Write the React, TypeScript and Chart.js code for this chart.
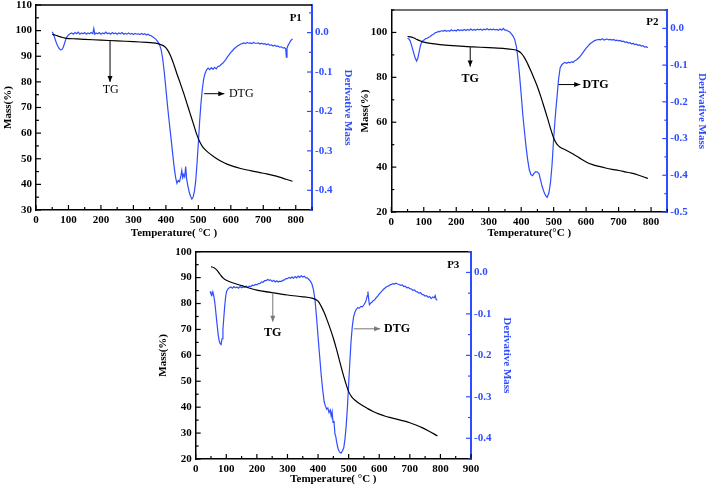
import React, { useEffect, useRef } from "react";
import { Chart, registerables } from "chart.js";
Chart.register(...registerables);

const BLUE = "#2f4cff";
const FONT = "'Liberation Serif', 'Times New Roman', serif";

// ---------- P1 ----------
const p1TgTemp = [50, 60, 70, 80, 90, 100, 125, 150, 200, 250, 300, 340, 360, 375, 385, 395, 405, 415, 425, 435, 445, 455, 465, 475, 485, 495, 505, 515, 530, 550, 570, 590, 610, 630, 650, 670, 690, 710, 730, 750, 770, 790];
const p1TgMass = [98.5, 98.2, 97.8, 97.4, 97.1, 96.9, 96.8, 96.6, 96.3, 96.0, 95.7, 95.4, 95.2, 94.9, 94.5, 93.9, 92.5, 90.0, 86.6, 82.8, 79.2, 75.5, 71.5, 67.5, 63.5, 59.5, 56.4, 54.3, 52.5, 50.6, 49.0, 47.8, 46.9, 46.2, 45.6, 45.1, 44.6, 44.1, 43.5, 42.8, 42.0, 41.2];
const p1Dtg: [number, number][] = [[50,0.002],[53,-0.003],[57,-0.012],[61,-0.022],[65,-0.031],[70,-0.039],[75,-0.044],[80,-0.043],[84,-0.037],[88,-0.027],[92,-0.017],[96,-0.01],[100,-0.006],[105,-0.003],[110,-0.001],[115,-0.004],[120,0.0],[125,-0.003],[130,0.001],[135,-0.004],[140,-0.001],[145,-0.003],[150,0.0],[155,-0.004],[160,-0.001],[165,-0.003],[170,0.0],[175,-0.003],[178,0.01],[181,-0.004],[185,-0.001],[190,-0.003],[195,0.0],[200,-0.004],[205,-0.001],[210,-0.003],[215,0.001],[220,-0.003],[225,-0.001],[230,-0.004],[235,0.0],[240,-0.003],[245,-0.001],[250,-0.004],[255,-0.001],[260,-0.003],[265,0.0],[270,-0.004],[275,-0.002],[280,-0.004],[285,-0.001],[290,-0.004],[295,-0.002],[300,-0.005],[305,-0.002],[310,-0.004],[315,-0.003],[320,-0.005],[325,-0.002],[330,-0.005],[335,-0.003],[340,-0.006],[345,-0.004],[350,-0.007],[355,-0.008],[360,-0.011],[365,-0.014],[370,-0.018],[375,-0.023],[380,-0.03],[385,-0.042],[390,-0.065],[395,-0.1],[400,-0.142],[405,-0.185],[410,-0.225],[415,-0.262],[420,-0.3],[425,-0.338],[430,-0.368],[434,-0.382],[438,-0.375],[442,-0.378],[446,-0.365],[449,-0.35],[452,-0.368],[455,-0.36],[458,-0.366],[461,-0.34],[464,-0.372],[468,-0.39],[472,-0.405],[476,-0.415],[480,-0.422],[484,-0.417],[488,-0.402],[492,-0.375],[496,-0.33],[500,-0.28],[504,-0.225],[508,-0.18],[512,-0.145],[516,-0.12],[520,-0.105],[525,-0.095],[530,-0.09],[535,-0.094],[540,-0.089],[545,-0.093],[550,-0.088],[555,-0.092],[560,-0.086],[565,-0.085],[570,-0.081],[575,-0.078],[580,-0.073],[585,-0.068],[590,-0.061],[595,-0.056],[600,-0.05],[605,-0.046],[610,-0.041],[615,-0.038],[620,-0.034],[625,-0.032],[630,-0.029],[635,-0.028],[640,-0.026],[645,-0.028],[650,-0.025],[655,-0.027],[660,-0.026],[665,-0.028],[670,-0.025],[675,-0.027],[680,-0.027],[685,-0.026],[690,-0.029],[695,-0.027],[700,-0.029],[705,-0.028],[710,-0.031],[715,-0.029],[720,-0.032],[725,-0.031],[730,-0.034],[735,-0.032],[740,-0.035],[745,-0.034],[750,-0.037],[755,-0.036],[760,-0.039],[765,-0.038],[769,-0.041],[771,-0.062],[773,-0.04],[776,-0.033],[780,-0.027],[785,-0.02],[790,-0.016]];

// ---------- P2 ----------
const p2TgTemp = [50, 60, 70, 80, 90, 100, 120, 150, 200, 250, 300, 350, 375, 390, 400, 410, 420, 430, 440, 450, 460, 470, 480, 490, 500, 510, 520, 540, 560, 580, 600, 620, 640, 660, 680, 700, 720, 740, 760, 780, 790];
const p2TgMass = [98.2, 98.0, 97.5, 96.8, 96.2, 95.7, 95.1, 94.6, 94.0, 93.6, 93.2, 92.8, 92.4, 91.8, 90.8, 88.8, 86.0, 82.8, 79.4, 75.8, 71.6, 67.0, 62.3, 57.4, 53.0, 50.2, 48.9, 47.4, 45.8, 44.0, 42.3, 41.1, 40.3, 39.6, 39.0, 38.5, 37.9, 37.3, 36.5, 35.5, 34.9];
const p2Dtg: [number, number][] = [[50,-0.027],[54,-0.029],[58,-0.034],[62,-0.045],[66,-0.058],[70,-0.07],[74,-0.082],[78,-0.089],[82,-0.08],[86,-0.063],[90,-0.046],[94,-0.037],[98,-0.033],[102,-0.031],[106,-0.028],[110,-0.027],[115,-0.024],[120,-0.022],[125,-0.018],[130,-0.016],[135,-0.012],[140,-0.011],[145,-0.008],[150,-0.009],[155,-0.006],[160,-0.008],[165,-0.005],[170,-0.008],[175,-0.006],[180,-0.008],[185,-0.004],[190,-0.007],[195,-0.005],[200,-0.007],[205,-0.003],[210,-0.006],[215,-0.004],[220,-0.006],[225,-0.003],[230,-0.006],[235,-0.003],[240,-0.005],[245,-0.002],[250,-0.005],[255,-0.003],[260,-0.005],[265,-0.002],[270,-0.004],[275,-0.002],[280,-0.005],[285,-0.002],[290,-0.004],[295,-0.001],[300,-0.004],[305,-0.002],[310,-0.004],[315,-0.002],[320,-0.004],[325,-0.003],[330,-0.005],[335,-0.002],[340,-0.005],[345,0.0],[350,-0.005],[355,-0.005],[360,-0.008],[365,-0.01],[370,-0.015],[375,-0.021],[380,-0.03],[385,-0.048],[390,-0.082],[395,-0.128],[400,-0.18],[405,-0.235],[410,-0.28],[415,-0.322],[420,-0.358],[425,-0.385],[430,-0.398],[435,-0.401],[440,-0.394],[445,-0.39],[450,-0.391],[455,-0.396],[460,-0.414],[465,-0.432],[470,-0.445],[475,-0.455],[480,-0.46],[485,-0.449],[490,-0.422],[495,-0.372],[500,-0.3],[505,-0.24],[510,-0.19],[515,-0.14],[520,-0.108],[525,-0.099],[530,-0.095],[535,-0.093],[540,-0.095],[545,-0.092],[550,-0.094],[555,-0.091],[560,-0.093],[565,-0.088],[570,-0.086],[575,-0.082],[580,-0.078],[585,-0.072],[590,-0.066],[595,-0.06],[600,-0.054],[605,-0.049],[610,-0.044],[615,-0.04],[620,-0.037],[625,-0.034],[630,-0.032],[635,-0.031],[640,-0.03],[645,-0.031],[650,-0.028],[655,-0.032],[660,-0.03],[665,-0.029],[670,-0.031],[675,-0.03],[680,-0.032],[685,-0.03],[690,-0.033],[695,-0.032],[700,-0.034],[705,-0.033],[710,-0.036],[715,-0.035],[720,-0.038],[725,-0.037],[730,-0.04],[735,-0.039],[740,-0.042],[745,-0.041],[750,-0.044],[755,-0.043],[760,-0.046],[765,-0.045],[770,-0.048],[775,-0.047],[780,-0.051],[785,-0.05],[790,-0.053]];

// ---------- P3 ----------
const p3TgTemp = [50, 60, 70, 80, 90, 100, 120, 150, 180, 200, 250, 300, 350, 380, 390, 400, 410, 420, 430, 440, 450, 460, 470, 480, 490, 500, 510, 520, 540, 560, 580, 600, 620, 640, 660, 680, 700, 720, 740, 760, 780, 790];
const p3TgMass = [94.2, 93.8, 92.8, 91.2, 89.8, 89.0, 88.0, 86.9, 85.8, 85.2, 84.2, 83.3, 82.6, 82.1, 81.7, 80.9, 79.0, 76.5, 73.5, 70.2, 66.6, 62.5, 58.0, 53.5, 49.5, 46.0, 44.0, 42.8, 41.0, 39.6, 38.3, 37.3, 36.5, 35.9, 35.3, 34.7, 34.0, 33.1, 32.1, 30.9, 29.6, 28.9];
const p3Dtg: [number, number][] = [[47,-0.046],[50,-0.052],[53,-0.055],[56,-0.047],[59,-0.056],[62,-0.07],[65,-0.09],[68,-0.112],[71,-0.133],[74,-0.153],[77,-0.165],[80,-0.172],[83,-0.174],[86,-0.16],[89,-0.137],[92,-0.108],[95,-0.08],[98,-0.058],[101,-0.046],[105,-0.04],[110,-0.037],[115,-0.035],[120,-0.038],[125,-0.034],[130,-0.037],[135,-0.035],[140,-0.038],[145,-0.034],[150,-0.037],[155,-0.035],[160,-0.036],[165,-0.033],[170,-0.036],[175,-0.033],[180,-0.034],[185,-0.031],[190,-0.032],[195,-0.029],[200,-0.03],[205,-0.027],[210,-0.027],[215,-0.023],[220,-0.024],[225,-0.02],[230,-0.02],[235,-0.017],[240,-0.019],[245,-0.018],[250,-0.022],[255,-0.019],[260,-0.023],[265,-0.02],[270,-0.023],[275,-0.021],[280,-0.022],[285,-0.019],[290,-0.018],[295,-0.015],[300,-0.015],[305,-0.012],[310,-0.014],[315,-0.011],[320,-0.014],[325,-0.01],[330,-0.013],[335,-0.009],[340,-0.012],[345,-0.008],[350,-0.011],[355,-0.009],[360,-0.013],[365,-0.013],[370,-0.017],[375,-0.021],[380,-0.028],[385,-0.042],[390,-0.066],[395,-0.108],[400,-0.155],[405,-0.2],[410,-0.245],[415,-0.282],[420,-0.312],[424,-0.322],[428,-0.33],[432,-0.327],[436,-0.338],[440,-0.332],[443,-0.347],[446,-0.336],[449,-0.362],[452,-0.358],[455,-0.388],[458,-0.396],[461,-0.41],[465,-0.424],[470,-0.433],[475,-0.436],[480,-0.43],[484,-0.423],[488,-0.402],[492,-0.37],[496,-0.325],[500,-0.27],[504,-0.215],[508,-0.165],[512,-0.13],[516,-0.108],[520,-0.097],[525,-0.089],[530,-0.085],[535,-0.086],[540,-0.082],[545,-0.083],[550,-0.078],[555,-0.072],[558,-0.065],[561,-0.056],[563,-0.046],[565,-0.062],[568,-0.078],[572,-0.074],[576,-0.072],[580,-0.068],[585,-0.066],[590,-0.061],[595,-0.057],[600,-0.052],[605,-0.048],[610,-0.044],[615,-0.04],[620,-0.037],[625,-0.034],[630,-0.033],[635,-0.03],[640,-0.029],[645,-0.027],[650,-0.028],[655,-0.026],[660,-0.028],[665,-0.029],[670,-0.031],[675,-0.03],[680,-0.034],[685,-0.033],[690,-0.037],[695,-0.036],[700,-0.039],[705,-0.04],[710,-0.043],[715,-0.042],[720,-0.046],[725,-0.047],[730,-0.05],[735,-0.049],[740,-0.053],[745,-0.054],[750,-0.057],[755,-0.056],[760,-0.06],[765,-0.058],[770,-0.063],[775,-0.059],[780,-0.061],[783,-0.056],[786,-0.065],[790,-0.067]];

type Panel = {
  left: number; top: number; w: number; h: number;
  padTop: number; leftW: number; rightW: number; bottomH: number;
  xMax: number; yMin: number; yMax: number; yStep: number; y1Min: number; y1Max: number;
  tgT: number[]; tgM: number[]; dtg: [number, number][];
  xTitle: string; xTitlePad: number; yTitlePad: number; y1TitlePad: number;
  label: string; labelAt: [number, number];
  tgArrow: [number, number, number]; tgText: [number, number];
  dtgArrow: [number, number, number]; dtgText: [number, number];
  noteBold: boolean; arrowColor: string; topColor: string;
};

const panels: Panel[] = [
  {
    left: 0, top: 0, w: 358, h: 245, padTop: 5, leftW: 36, rightW: 46, bottomH: 35,
    xMax: 850, yMin: 30, yMax: 110, yStep: 10, y1Min: -0.45, y1Max: 0.07,
    tgT: p1TgTemp, tgM: p1TgMass, dtg: p1Dtg,
    xTitle: "Temperature( °C )", xTitlePad: 5, yTitlePad: 1.4, y1TitlePad: 3.4,
    label: "P1", labelAt: [800, 104.9],
    tgArrow: [228, 96.1, 80], tgText: [230, 77],
    dtgArrow: [518, 580, -0.155], dtgText: [632, -0.155],
    noteBold: false, arrowColor: "#000", topColor: "#000",
  },
  {
    left: 355, top: 0, w: 354, h: 245, padTop: 10, leftW: 36.3, rightW: 41.7, bottomH: 33,
    xMax: 850, yMin: 20, yMax: 110, yStep: 20, y1Min: -0.5, y1Max: 0.05,
    tgT: p2TgTemp, tgM: p2TgMass, dtg: p2Dtg,
    xTitle: "Temperature(°C )", xTitlePad: 5, yTitlePad: 3.4, y1TitlePad: 0.7,
    label: "P2", labelAt: [804, 104.5],
    tgArrow: [243, 93.4, 84.8], tgText: [243, 79.2],
    dtgArrow: [515, 582, -0.153], dtgText: [629, -0.153],
    noteBold: true, arrowColor: "#000", topColor: "#444",
  },
  {
    left: 150, top: 245, w: 370, h: 243, padTop: 6.7, leftW: 45.7, rightW: 49, bottomH: 29,
    xMax: 900, yMin: 20, yMax: 100, yStep: 10, y1Min: -0.45, y1Max: 0.05,
    tgT: p3TgTemp, tgM: p3TgMass, dtg: p3Dtg,
    xTitle: "Temperature( °C )", xTitlePad: 2.4, yTitlePad: 6.4, y1TitlePad: 6.7,
    label: "P3", labelAt: [842, 94.9],
    tgArrow: [252, 84.2, 73], tgText: [252, 68.7],
    dtgArrow: [517, 603, -0.136], dtgText: [658, -0.136],
    noteBold: true, arrowColor: "#777", topColor: "#000",
  },
];

function makeDecor(p: Panel) {
  return {
    id: "decor",
    afterDatasetsDraw(chart: any) {
      const ctx = chart.ctx as CanvasRenderingContext2D;
      const a = chart.chartArea;
      const sx = chart.scales.x, sy = chart.scales.y, s1 = chart.scales.y1;
      ctx.save();
      // top frame line
      ctx.strokeStyle = p.topColor;
      ctx.lineWidth = 1.5;
      ctx.beginPath();
      ctx.moveTo(a.left, a.top);
      ctx.lineTo(a.right, a.top);
      ctx.stroke();
      // inward ticks
      const axes: [any, number, number, string, string][] = [
        [sx, 100, 50, "#000", "bottom"],
        [sy, p.yStep, p.yStep / 2, "#000", "left"],
        [s1, 0.1, 0.05, BLUE, "right"],
      ];
      ctx.lineWidth = 1.2;
      for (const [s, major, minor, color, side] of axes) {
        ctx.strokeStyle = color;
        const k0 = Math.ceil(s.min / minor - 1e-6);
        for (let k = k0; k * minor <= s.max + 1e-9; k++) {
          const v = k * minor;
          const r = v / major;
          const isMajor = Math.abs(r - Math.round(r)) < 1e-6;
          const len = isMajor ? 5 : 3;
          const px = s.getPixelForValue(v);
          ctx.beginPath();
          if (side === "bottom") { ctx.moveTo(px, a.bottom); ctx.lineTo(px, a.bottom - len); }
          else if (side === "left") { ctx.moveTo(a.left, px); ctx.lineTo(a.left + len, px); }
          else { ctx.moveTo(a.right, px); ctx.lineTo(a.right - len, px); }
          ctx.stroke();
        }
      }
      // arrows
      const head = (x: number, y: number, dx: number, dy: number) => {
        const L = 6, W = 2.5;
        const n = Math.hypot(dx, dy); const ux = dx / n, uy = dy / n;
        ctx.beginPath();
        ctx.moveTo(x, y);
        ctx.lineTo(x - ux * L - uy * W, y - uy * L + ux * W);
        ctx.lineTo(x - ux * L + uy * W, y - uy * L - ux * W);
        ctx.closePath();
        ctx.fill();
      };
      ctx.strokeStyle = p.arrowColor;
      ctx.fillStyle = p.arrowColor;
      ctx.lineWidth = 1;
      const tx = sx.getPixelForValue(p.tgArrow[0]);
      const ty1 = sy.getPixelForValue(p.tgArrow[1]);
      const ty2 = sy.getPixelForValue(p.tgArrow[2]);
      ctx.beginPath(); ctx.moveTo(tx, ty1); ctx.lineTo(tx, ty2); ctx.stroke();
      head(tx, ty2, 0, 1);
      const dx1 = sx.getPixelForValue(p.dtgArrow[0]);
      const dx2 = sx.getPixelForValue(p.dtgArrow[1]);
      const dy = s1.getPixelForValue(p.dtgArrow[2]);
      ctx.beginPath(); ctx.moveTo(dx1, dy); ctx.lineTo(dx2, dy); ctx.stroke();
      head(dx2, dy, 1, 0);
      // texts
      ctx.fillStyle = "#000";
      ctx.textAlign = "center";
      ctx.textBaseline = "middle";
      ctx.font = `${p.noteBold ? "bold " : ""}12px ${FONT}`;
      ctx.fillText("TG", sx.getPixelForValue(p.tgText[0]), sy.getPixelForValue(p.tgText[1]));
      ctx.fillText("DTG", sx.getPixelForValue(p.dtgText[0]), s1.getPixelForValue(p.dtgText[1]));
      ctx.font = `bold 11px ${FONT}`;
      ctx.fillText(p.label, sx.getPixelForValue(p.labelAt[0]), sy.getPixelForValue(p.labelAt[1]));
      ctx.restore();
    },
  };
}

function PanelChart({ p }: { p: Panel }) {
  const ref = useRef<HTMLCanvasElement>(null);
  useEffect(() => {
    if (!ref.current) return;
    const tickFont = { family: FONT, size: 11, weight: "bold" as const };
    const titleFont = { family: FONT, size: 11, weight: "bold" as const };
    const chart = new Chart(ref.current, {
      type: "line",
      data: {
        datasets: [
          {
            label: "TG",
            data: p.tgT.map((t, i) => ({ x: t, y: p.tgM[i] })),
            borderColor: "#000",
            borderWidth: 1.2,
            pointRadius: 0,
            tension: 0.3,
            yAxisID: "y",
          },
          {
            label: "DTG",
            data: p.dtg.map(([t, v]) => ({ x: t, y: v })),
            borderColor: BLUE,
            borderWidth: 1.2,
            pointRadius: 0,
            tension: 0,
            yAxisID: "y1",
          },
        ],
      },
      options: {
        responsive: false,
        animation: false,
        devicePixelRatio: 1,
        layout: { padding: { top: p.padTop, left: 0, right: 0, bottom: 0 } },
        plugins: { legend: { display: false }, tooltip: { enabled: false } },
        scales: {
          x: {
            type: "linear",
            min: 0,
            max: p.xMax,
            afterFit: (s: any) => { s.height = p.bottomH; s.paddingLeft = 0; s.paddingRight = 0; },
            ticks: {
              stepSize: 100, autoSkip: false, includeBounds: false, maxRotation: 0, color: "#000", font: tickFont, padding: 4,
              callback: (v: any) => (Math.abs(v % 100) < 1e-6 ? String(v) : ""),
            },
            grid: { display: true, drawOnChartArea: false, drawTicks: false },
            border: { color: "#000", width: 1.5 },
            title: { display: true, text: p.xTitle, color: "#000", font: titleFont, padding: { top: 0, bottom: p.xTitlePad } },
          },
          y: {
            type: "linear",
            position: "left",
            min: p.yMin,
            max: p.yMax,
            afterFit: (s: any) => { s.width = p.leftW; s.paddingTop = 0; s.paddingBottom = 0; },
            ticks: {
              stepSize: p.yStep, autoSkip: false, includeBounds: false, color: "#000", font: tickFont, padding: 4,
              callback: (v: any) => (Math.abs(v % p.yStep) < 1e-6 ? String(Math.round(v)) : ""),
            },
            grid: { display: true, drawOnChartArea: false, drawTicks: false },
            border: { color: "#000", width: 1.5 },
            title: { display: true, text: "Mass(%)", color: "#000", font: titleFont, padding: { top: p.yTitlePad, bottom: 0 } },
          },
          y1: {
            type: "linear",
            position: "right",
            min: p.y1Min,
            max: p.y1Max,
            afterFit: (s: any) => { s.width = p.rightW; s.paddingTop = 0; s.paddingBottom = 0; },
            ticks: {
              stepSize: 0.05, autoSkip: false, includeBounds: false, color: BLUE, font: tickFont, padding: 3,
              callback: (v: any) => {
                const r = Math.round(v * 10);
                if (Math.abs(v * 10 - r) > 1e-6) return "";
                return (r / 10).toFixed(1);
              },
            },
            grid: { display: true, drawOnChartArea: false, drawTicks: false },
            border: { color: BLUE, width: 2 },
            title: { display: true, text: "Derivative Mass", color: BLUE, font: titleFont, padding: { top: p.y1TitlePad, bottom: 0 } },
          },
        },
      } as any,
      plugins: [makeDecor(p)],
    });
    return () => chart.destroy();
  }, [p]);
  return (
    <div style={{ position: "absolute", left: p.left, top: p.top, width: p.w, height: p.h }}>
      <canvas ref={ref} width={p.w} height={p.h} style={{ display: "block" }} />
    </div>
  );
}

export default function App() {
  return (
    <div style={{ position: "absolute", left: 0, top: 0, width: 709, height: 488, background: "#fff" }}>
      {panels.map((p, i) => (
        <PanelChart key={i} p={p} />
      ))}
    </div>
  );
}
